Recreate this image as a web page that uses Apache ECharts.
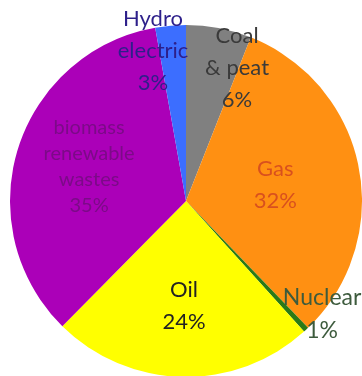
<!DOCTYPE html>
<html>
<head>
<meta charset="utf-8">
<script src="https://cdn.jsdelivr.net/npm/echarts@6/dist/echarts.min.js"></script>
<style>
html,body{margin:0;padding:0;background:#fff;}
#chart{width:362px;height:376px;}
</style>
</head>
<body>
<div id="chart"></div>
<script>
// Data
var categories = ['Coal\n& peat', 'Gas', 'Nuclear', 'Oil', 'biomass\nrenewable\nwastes', 'Hydro\nelectric'];
var values = [6.0, 31.8, 0.5, 24.1, 34.8, 2.8];
var percentLabels = ['6%', '32%', '1%', '24%', '35%', '3%'];

var sliceColors = ['#808080', '#FF9012', '#2A7A16', '#FFFF00', '#AB00B8', '#3C6EFF'];
var textColors = ['#3a3a3a', '#D9501E', '#3d5b3d', '#222222', '#7C0A88', '#2d1f8a'];
var labelOffsets = [[34, -44], [0, 2], [74, 47], [0, 14], [-10, -7], [-25, -59]];
var fontSizes = [22, 22, 23, 22, 20, 22];
var lineHeights = [32, 32, 33, 32, 26, 32];

var data = categories.map(function (c, i) {
  return {
    name: c,
    value: values[i],
    itemStyle: { color: sliceColors[i] },
    label: {
      color: textColors[i],
      offset: labelOffsets[i],
      fontSize: fontSizes[i],
      lineHeight: lineHeights[i]
    }
  };
});

var chart = echarts.init(document.getElementById('chart'), null, { renderer: 'canvas' });
chart.setOption({
  animation: false,
  backgroundColor: '#ffffff',
  series: [{
    type: 'pie',
    center: [186, 201],
    radius: [0, 176],
    startAngle: 90,
    clockwise: true,
    avoidLabelOverlap: false,
    itemStyle: { borderWidth: 0 },
    emphasis: { disabled: true },
    label: {
      show: true,
      position: 'inside',
      fontFamily: 'Lato',
      align: 'center',
      formatter: function (p) {
        return categories[p.dataIndex] + '\n' + percentLabels[p.dataIndex];
      }
    },
    labelLine: { show: false },
    data: data
  }]
});
</script>
</body>
</html>
